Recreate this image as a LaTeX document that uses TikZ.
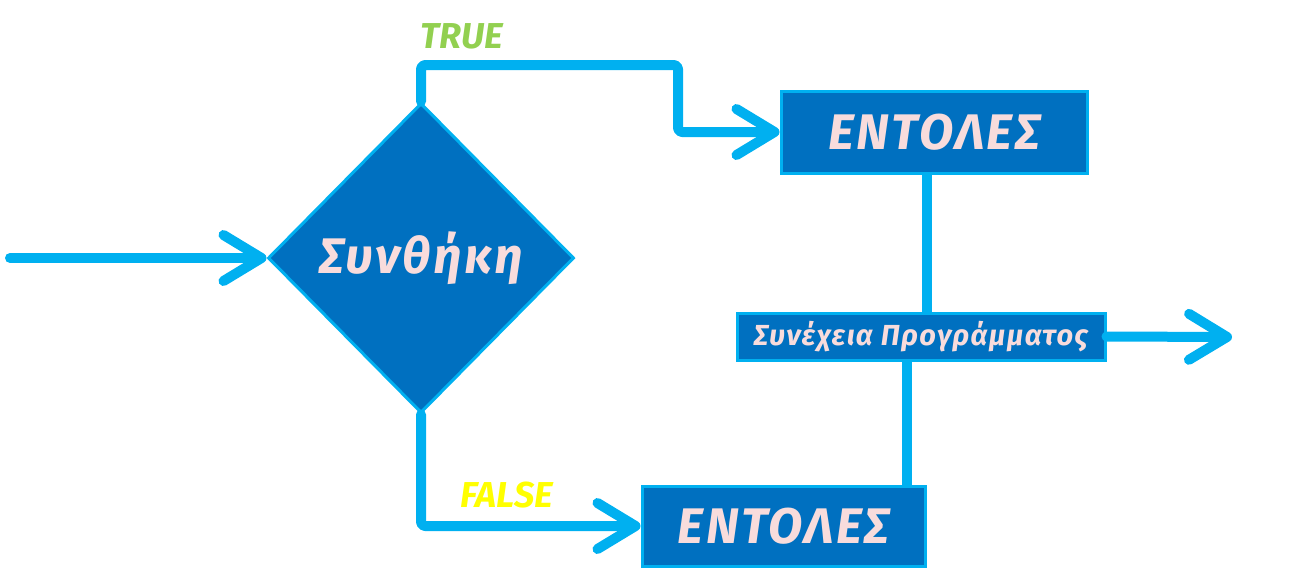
\documentclass[tikz,border=0pt]{standalone}
\usepackage{fontspec}
\setmainfont{Fira Sans}
\usetikzlibrary{arrows.meta,shapes.geometric}
\definecolor{lineblue}{HTML}{00B0F0}
\definecolor{boxblue}{HTML}{0070C0}
\definecolor{txtpink}{HTML}{F8DCDC}
\definecolor{truegreen}{HTML}{92D050}
\definecolor{falseyellow}{HTML}{FFFF00}

\begin{document}
\begin{tikzpicture}[x=1pt,y=-1pt,
  flow/.style={draw=lineblue,line width=10pt,line cap=round,line join=round,rounded corners=4pt},
  arr/.style={flow,-{Straight Barb[length=38pt,width=46pt,round]}},
  link/.style={flow,line cap=butt},
  box/.style={draw=lineblue,line width=3pt,fill=boxblue,text=txtpink,inner sep=0pt},
  big/.style={font=\itshape\bfseries\fontsize{50}{60}\selectfont\addfontfeature{LetterSpace=5}},
  small/.style={font=\itshape\bfseries\fontsize{29}{32}\selectfont\addfontfeature{LetterSpace=4.5}},
  tag/.style={font=\itshape\bfseries\fontsize{36}{40}\selectfont}]
  \useasboundingbox (0,0) rectangle (1293,587);
  % shapes
  \node[box,big,diamond,minimum width=306pt,minimum height=310pt] (cond) at (421,258) {Συνθήκη};
  \node[box,big,minimum width=306pt,minimum height=82pt] (then1) at (934,132) {ΕΝΤΟΛΕΣ};
  \node[box,big,minimum width=283pt,minimum height=80pt] (else1) at (783.5,526) {ΕΝΤΟΛΕΣ};
  \node[box,small,minimum width=368pt,minimum height=47pt] (cont) at (921,336.5) {Συνέχεια Προγράμματος};
  \node[tag,text=truegreen] (tlab) at (462,36) {TRUE};
  \node[tag,text=falseyellow] (flab) at (507,495) {FALSE};
  \coordinate (in) at (10,258);
  \coordinate (tjog) at (678,65);
  \coordinate (out) at (1232,337);
  % connectors
  \draw[arr] (in) -- (cond.west);
  \draw[arr] (cond.north) |- (tjog) |- (then1.west);
  \draw[arr] (cond.south) |- (else1.west);
  \draw[link] ([xshift=-7pt]then1.south) -- ([xshift=-7pt]then1.south |- cont.north);
  \draw[link] ([xshift=-20pt]else1.north east) -- ([xshift=-20pt]else1.north east |- cont.south);
  \draw[arr] (cont.east) -- (out);
\end{tikzpicture}
\end{document}
